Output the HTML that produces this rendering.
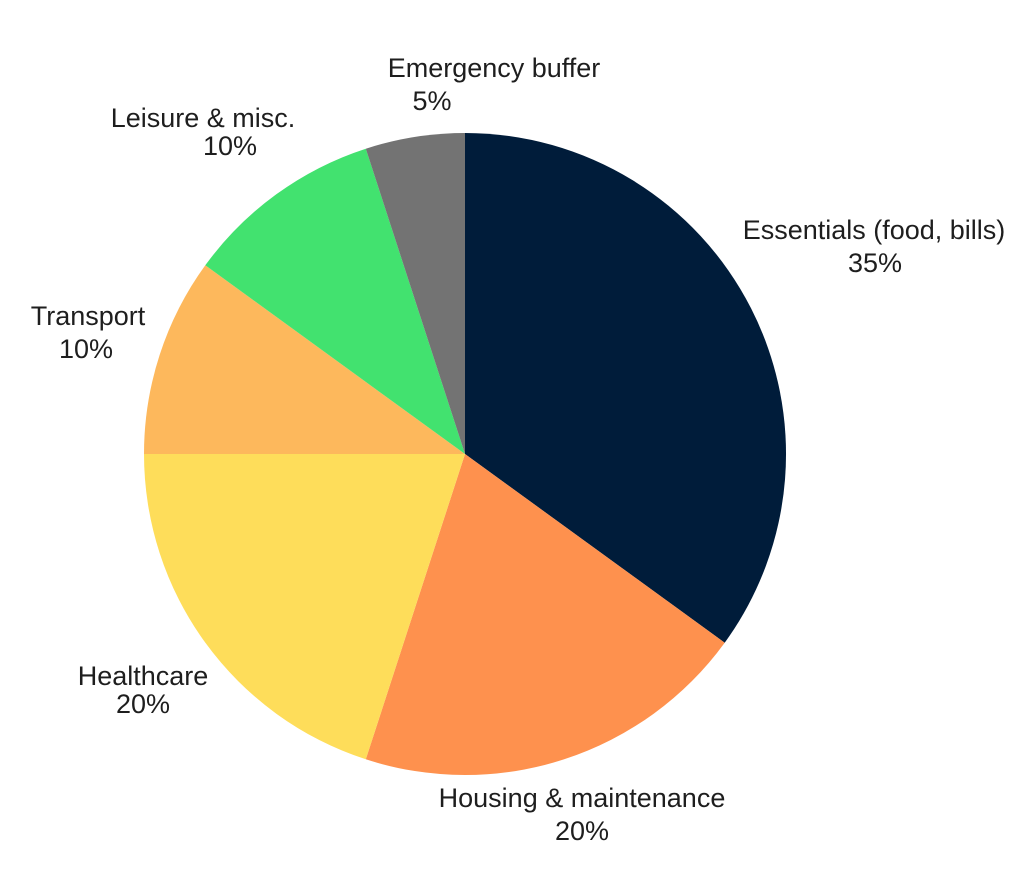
<!DOCTYPE html>
<html><head><meta charset="utf-8"><style>
html,body{margin:0;padding:0;background:#fff;}
svg text{font-family:"Liberation Sans",sans-serif;font-size:27px;fill:#1e1e1e;text-anchor:middle;}
</style></head><body>
<svg width="1024" height="867" viewBox="0 0 1024 867" xmlns="http://www.w3.org/2000/svg">
<rect width="1024" height="867" fill="#fff"/>
<g>
<path d="M465,454 L465,133 A321,321 0 0 1 724.7,642.7 Z" fill="#001c3a"/>
<path d="M465,454 L724.7,642.7 A321,321 0 0 1 365.8,759.3 Z" fill="#fe914e"/>
<path d="M465,454 L365.8,759.3 A321,321 0 0 1 144,454 Z" fill="#fedd5a"/>
<path d="M465,454 L144,454 A321,321 0 0 1 205.3,265.3 Z" fill="#fdb85c"/>
<path d="M465,454 L205.3,265.3 A321,321 0 0 1 365.8,148.7 Z" fill="#42e26f"/>
<path d="M465,454 L365.8,148.7 A321,321 0 0 1 465,133 Z" fill="#737373"/>
</g>
<text x="494" y="77">Emergency buffer</text>
<text x="432" y="110">5%</text>
<text x="203" y="127">Leisure &amp; misc.</text>
<text x="230" y="155">10%</text>
<text x="874" y="239">Essentials (food, bills)</text>
<text x="875" y="272">35%</text>
<text x="88" y="325">Transport</text>
<text x="86" y="358">10%</text>
<text x="143" y="685">Healthcare</text>
<text x="143" y="713">20%</text>
<text x="582" y="807">Housing &amp; maintenance</text>
<text x="582" y="840">20%</text>
</svg>
</body></html>
